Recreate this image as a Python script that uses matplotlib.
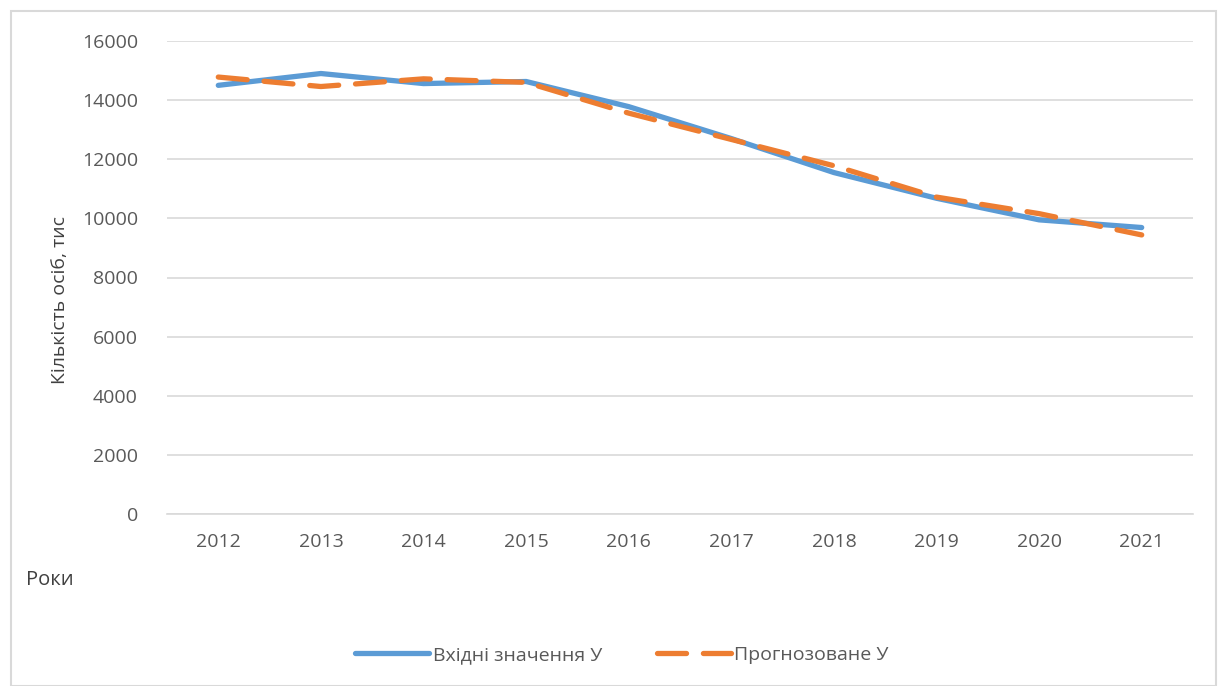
import matplotlib
matplotlib.use("Agg")
import matplotlib.pyplot as plt
from matplotlib.patches import Rectangle

years = ["2012", "2013", "2014", "2015", "2016", "2017", "2018", "2019", "2020", "2021"]
actual = [14500, 14900, 14560, 14630, 13780, 12700, 11550, 10680, 9950, 9690]
forecast = [14780, 14460, 14720, 14600, 13560, 12670, 11780, 10720, 10160, 9440]
yticks = [0, 2000, 4000, 6000, 8000, 10000, 12000, 14000, 16000]

plt.rcParams['font.family'] = ['Open Sans', 'DejaVu Sans']

W, H = 1226, 686
fig = plt.figure(figsize=(W / 100, H / 100), dpi=100)
fig.patch.set_facecolor("white")
fig.patches.append(Rectangle((11 / W, 0), (1216 - 11) / W, 1 - 11 / H, transform=fig.transFigure,
                             fill=False, edgecolor="#D9D9D9", linewidth=1.5, zorder=0))

ax = fig.add_axes([167 / W, 1 - 514 / H, (1193 - 167) / W, (514 - 41) / H])
x = list(range(len(years)))
l1, = ax.plot(x, actual, color="#5B9BD5", linewidth=3.8, solid_capstyle="round", solid_joinstyle="round",
              label="Вхідні значення У", zorder=3)
l2, = ax.plot(x, forecast, color="#ED7D31", linewidth=3.8, dashes=(5.5, 3.2), dash_capstyle="round",
              label="Прогнозоване У", zorder=4)

ax.set_xlim(-0.5, len(years) - 0.5)
ax.set_ylim(0, 16000)
ax.set_yticks(yticks)
ax.set_yticklabels([str(v) for v in yticks])
ax.set_xticks(x)
ax.set_xticklabels(years)
ax.grid(axis="y", color="#D9D9D9", linewidth=1.2)
ax.set_axisbelow(True)
for s in ["top", "right", "left"]:
    ax.spines[s].set_visible(False)
ax.spines["bottom"].set_color("#D9D9D9")
ax.spines["bottom"].set_linewidth(1.2)
ax.tick_params(axis="both", length=0, labelsize=14, colors="#595959")
ax.tick_params(axis="y", pad=21)
ax.tick_params(axis="x", pad=14)

fig.text(60 / W, 1 - 300 / H, "Кількість осіб, тис", rotation=90, ha="center", va="center",
         fontsize=14, color="#404040")
fig.text(26 / W, 1 - 580 / H, "Роки", ha="left", va="center", fontsize=14.5, color="#404040")

fig.legend(handles=[l1, l2], loc="center", bbox_to_anchor=(622 / W, 1 - 655 / H), ncol=2,
           frameon=False, fontsize=14, labelcolor="#595959", handlelength=3.8, columnspacing=2.8,
           handletextpad=0.2)

fig.savefig("out.png", dpi=100, facecolor="white")
